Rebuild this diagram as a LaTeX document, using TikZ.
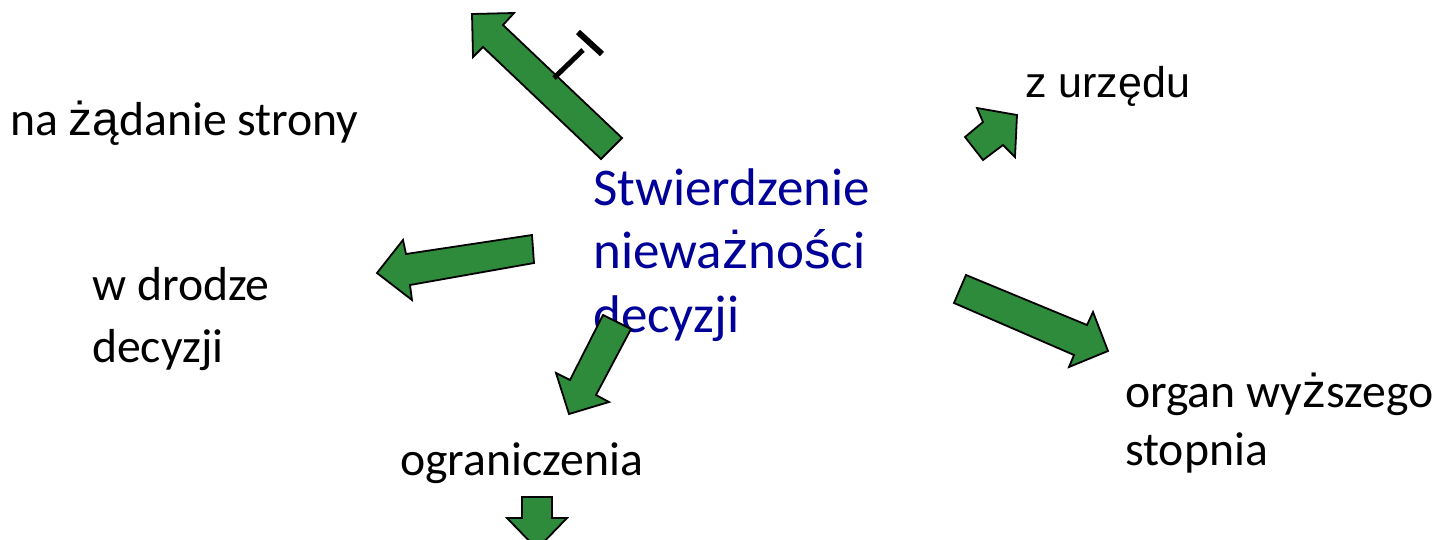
\documentclass[tikz,border=0pt]{standalone}
\usepackage{fontspec}
\setmainfont{Carlito}
\newfontfamily\arialfam{Liberation Sans}
\newcommand{\plch}[1]{{\arialfam #1}}
\definecolor{arrowgreen}{RGB}{46,139,59}
\definecolor{titleblue}{RGB}{0,0,153}
\tikzset{
  blockarrow/.style={fill=arrowgreen, draw=black, line width=1.8pt, line join=miter},
  label/.style={anchor=base west, inner sep=0pt, font=\fontsize{47.7}{56}\selectfont},
  title/.style={anchor=base west, inner sep=0pt, text=titleblue, font=\fontsize{53}{62}\selectfont},
}
\begin{document}
\begin{tikzpicture}[x=1pt, y=-1pt]
\useasboundingbox (0,0) rectangle (1435,539);

% labels
\node[label] (strony) at (10,135) {na \plch{żą}danie strony};
\node[label, font=\fontsize{43}{52}\arialfam] (urzedu) at (1025,97) {z urzędu};
\node[title] (t1) at (593,205) {Stwierdzenie};
\node[title] (t2) at (593,268) {niewa\plch{ż}no\plch{ś}ci};
\node[title] (t3) at (593,332) {decyzji};
\node[label] (dr1) at (92,300) {w drodze};
\node[label] (dr2) at (92,362) {decyzji};
\node[label] (ogr) at (400,475) {ograniczenia};
\node[label] (org1) at (1125,407) {organ wy\plch{ż}szego};
\node[label] (org2) at (1125,465) {stopnia};

% block arrow towards the upper left, with its T-shaped mark
\draw[blockarrow] (472,14) -- (514,13) -- (503,25) -- (622,138) -- (601,159)
  -- (483,47) -- (473,57) -- cycle;
\draw[line width=5pt] (554,78) -- (583,50);
\draw[line width=6pt] (578,32) -- (602,54);

% block arrow to "w drodze decyzji"
\draw[blockarrow] (377,273) -- (403,240) -- (406,254) -- (532,235) -- (534,263)
  -- (410,285) -- (412,300) -- cycle;

% block arrow to "ograniczenia"
\draw[blockarrow] (603,315) -- (631,329) -- (596,395) -- (609,402) -- (569,414)
  -- (556,373) -- (570,380) -- cycle;

% block arrow to "z urzędu"
\draw[blockarrow] (1017,115) -- (977,108) -- (983,122) -- (965,137) -- (983,160)
  -- (1003,145) -- (1015,157) -- cycle;

% block arrow to "organ wyższego stopnia"
\draw[blockarrow] (966,275) -- (1087,325) -- (1093,312) -- (1108,351) -- (1069,367)
  -- (1074,355) -- (954,303) -- cycle;

% block arrow below "ograniczenia"
\begin{scope}
\clip (0,0) rectangle (1435,539);
\draw[blockarrow] (522,497) -- (552,497) -- (552,518) -- (567,518) -- (537,549)
  -- (507,518) -- (522,518) -- cycle;
\end{scope}
\end{tikzpicture}
\end{document}
